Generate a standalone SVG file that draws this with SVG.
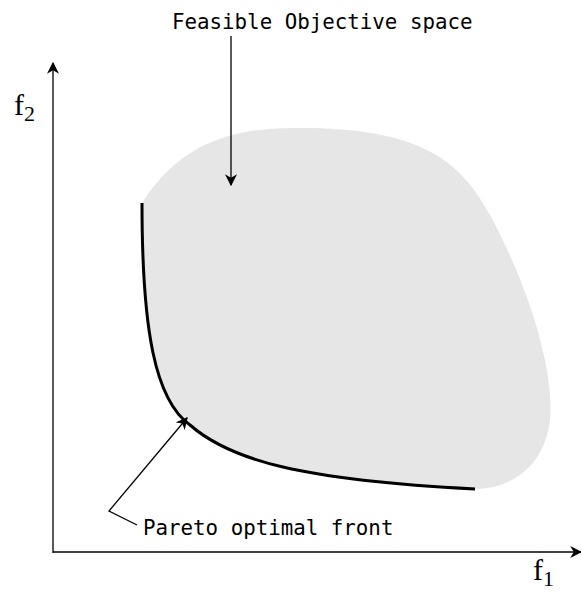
<svg xmlns="http://www.w3.org/2000/svg" width="581" height="595" viewBox="0 0 581 595">
<defs>
<style>
.mono{font-family:"DejaVu Sans Mono","Liberation Mono",monospace;font-size:20.8px;fill:#000}
.serif{font-family:"Liberation Serif","DejaVu Serif",serif;fill:#000}
.ln{stroke:#000;stroke-width:1.3;fill:none}
</style>
<marker id="ah" viewBox="0 0 10 10" refX="9" refY="5" markerWidth="12" markerHeight="12" markerUnits="userSpaceOnUse" orient="auto">
<path d="M0,0 L10,5 L0,10 L3,5 Z" fill="#000"/>
</marker>
</defs>
<g id="region">
<path d="M142,203 C142,330 155,400 190,425 C230,460 300,480 475,489 C512,489 545,465 550,420 C555,360 520,270 490,215 C460,160 420,128 300,128 C210,126 170,160 142,203 Z" fill="#e6e6e6"/>
</g>
<g id="pareto">
<path d="M142,203 C142,330 155,400 190,425 C230,460 300,480 475,489" fill="none" stroke="#000" stroke-width="3"/>
</g>
<g id="axes">
<line class="ln" x1="53" y1="553" x2="53" y2="63" marker-end="url(#ah)"/>
<line class="ln" x1="53" y1="552" x2="581" y2="552" marker-end="url(#ah)"/>
<text class="serif" x="14" y="115" font-size="30">f<tspan font-size="22" dy="6">2</tspan></text>
<text class="serif" x="533" y="580" font-size="30">f<tspan font-size="22" dy="6">1</tspan></text>
</g>
<g id="labels">
<text class="mono" x="172" y="29">Feasible Objective space</text>
<text class="mono" x="143" y="535">Pareto optimal front</text>
</g>
<g id="connectors">
<line class="ln" x1="231" y1="36" x2="231" y2="185" marker-end="url(#ah)"/>
<polyline class="ln" points="137,525 109,511 187,418" marker-end="url(#ah)"/>
</g>
</svg>
